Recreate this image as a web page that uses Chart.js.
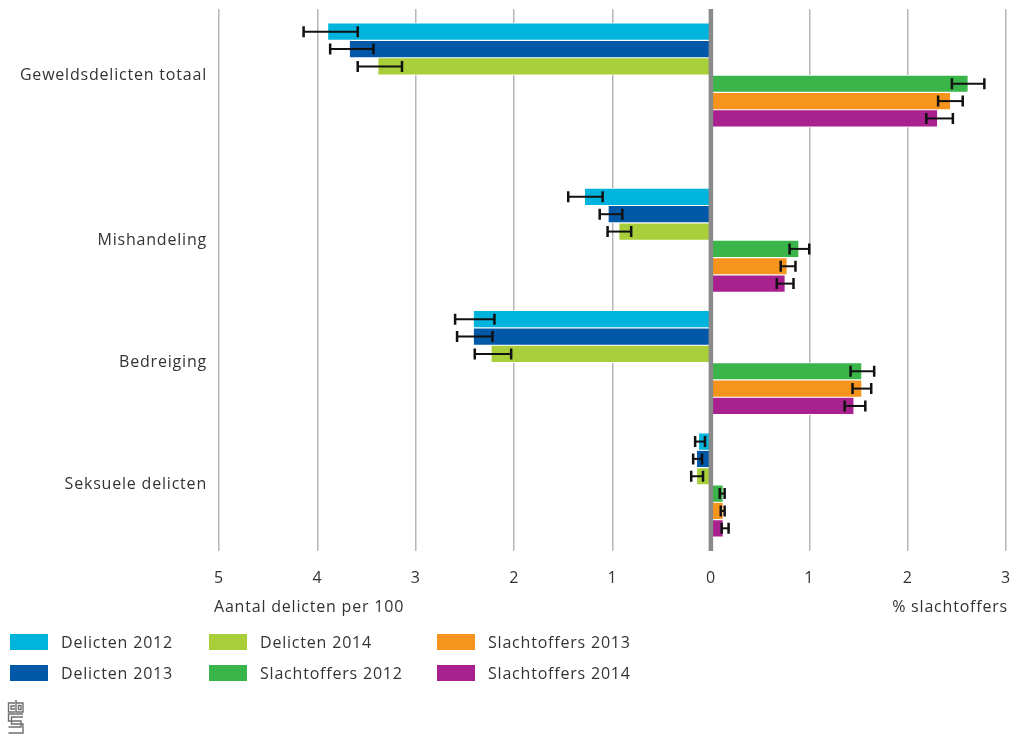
<!DOCTYPE html>
<html><head><meta charset="utf-8">
<script src="https://cdn.jsdelivr.net/npm/chart.js@4.4.1/dist/chart.umd.min.js"></script>
<style>
html,body{margin:0;padding:0;background:#fff;}
#wrap{position:relative;width:1014px;height:735px;overflow:hidden;font-family:"Open Sans",sans-serif;color:#333;letter-spacing:0.8px;font-size:16px;}
#c{position:absolute;left:0;top:0;}
.atitle{position:absolute;top:595px;line-height:22px;white-space:nowrap;}
#legend{position:absolute;left:10px;top:626px;display:grid;grid-auto-flow:column;grid-template-rows:31px 31px;grid-template-columns:199px 228px auto;}
.item{display:flex;align-items:center;white-space:nowrap;}
.box{width:38px;height:16px;margin-right:13px;flex:none;}
#logo{position:absolute;left:7px;top:699px;}
</style></head>
<body>
<div id="wrap">
<canvas id="c" width="1014" height="735"></canvas>
<div class="atitle" id="tl" style="left:214px;"></div>
<div class="atitle" id="tr" style="right:6px;"></div>
<div id="legend"></div>
<svg id="logo" width="18" height="36" viewBox="0 0 18 36" fill="none" stroke="#6f6f6f" stroke-width="1.4">
<path d="M8 4 H1.5 V13 H8"/><path d="M8 7 H4 V10 H8"/>
<path d="M9 1 V13 H16 V4 H9"/><rect x="11.5" y="6.5" width="2.5" height="4"/>
<path d="M16 15 H1.5 V22 H14 V28 H1.5"/><path d="M16 18 H4.5 V25 H16 V34 H1.5"/>
</svg>
</div>
<script>
const categories = ['Geweldsdelicten totaal', 'Mishandeling', 'Bedreiging', 'Seksuele delicten'];
const categoryPositions = [0, 1.35, 2.35, 3.35];
const xTickValues = [-5, -4, -3, -2, -1, 0, 1, 2, 3];
const leftAxisTitle = 'Aantal delicten per 100';
const rightAxisTitle = '% slachtoffers';

const seriesLabels = ['Delicten 2012', 'Delicten 2013', 'Delicten 2014', 'Slachtoffers 2012', 'Slachtoffers 2013', 'Slachtoffers 2014'];
const seriesColors = ['#00b4dd', '#0058a7', '#a8ce3a', '#39b54a', '#f7941e', '#a9218e'];

// Delicten: aantal per 100 (plotted to the left)
const delicten2012 = [3.89, 1.28, 2.41, 0.12];
const delicten2012Low = [3.59, 1.10, 2.20, 0.06];
const delicten2012High = [4.14, 1.45, 2.60, 0.16];
const delicten2013 = [3.67, 1.04, 2.41, 0.14];
const delicten2013Low = [3.43, 0.90, 2.22, 0.09];
const delicten2013High = [3.87, 1.13, 2.58, 0.18];
const delicten2014 = [3.38, 0.93, 2.23, 0.14];
const delicten2014Low = [3.14, 0.81, 2.03, 0.08];
const delicten2014High = [3.59, 1.05, 2.40, 0.20];
// Slachtoffers: % (plotted to the right)
const slachtoffers2012 = [2.61, 0.89, 1.53, 0.12];
const slachtoffers2012Low = [2.45, 0.80, 1.42, 0.09];
const slachtoffers2012High = [2.78, 1.00, 1.66, 0.14];
const slachtoffers2013 = [2.43, 0.77, 1.53, 0.12];
const slachtoffers2013Low = [2.31, 0.71, 1.44, 0.10];
const slachtoffers2013High = [2.56, 0.86, 1.63, 0.14];
const slachtoffers2014 = [2.30, 0.75, 1.45, 0.12];
const slachtoffers2014Low = [2.19, 0.67, 1.36, 0.11];
const slachtoffers2014High = [2.46, 0.84, 1.57, 0.18];

const seriesValues = [delicten2012, delicten2013, delicten2014, slachtoffers2012, slachtoffers2013, slachtoffers2014];
const seriesLow = [delicten2012Low, delicten2013Low, delicten2014Low, slachtoffers2012Low, slachtoffers2013Low, slachtoffers2014Low];
const seriesHigh = [delicten2012High, delicten2013High, delicten2014High, slachtoffers2012High, slachtoffers2013High, slachtoffers2014High];
const seriesSide = [-1, -1, -1, 1, 1, 1];

const FONT = '"Open Sans", sans-serif';
const TEXT = '#333';

const datasets = seriesLabels.map((label, s) => ({
  label,
  data: seriesValues[s].map((v, i) => ({ x: seriesSide[s] * v, y: categoryPositions[i] })),
  errLow: seriesLow[s].map(v => seriesSide[s] * v),
  errHigh: seriesHigh[s].map(v => seriesSide[s] * v),
  backgroundColor: seriesColors[s],
  borderColor: '#ffffff',
  borderWidth: { top: 0.9, bottom: 0.9, left: 0, right: 0 },
  borderSkipped: false,
  barThickness: 17.35
}));

const spacingPlugin = {
  id: 'spacing',
  beforeUpdate(chart) { chart.ctx.letterSpacing = '0.8px'; },
  beforeDraw(chart) { chart.ctx.letterSpacing = '0.8px'; }
};

const overlayPlugin = {
  id: 'overlay',
  afterDatasetsDraw(chart) {
    const ctx = chart.ctx;
    const xs = chart.scales.x;
    const area = chart.chartArea;
    ctx.save();
    const x0 = xs.getPixelForValue(0);
    ctx.strokeStyle = '#8a8a8a';
    ctx.lineWidth = 4.5;
    ctx.beginPath();
    ctx.moveTo(x0, area.top);
    ctx.lineTo(x0, area.bottom);
    ctx.stroke();
    ctx.strokeStyle = '#111';
    chart.data.datasets.forEach((ds, di) => {
      const meta = chart.getDatasetMeta(di);
      meta.data.forEach((el, i) => {
        const a = xs.getPixelForValue(ds.errLow[i]);
        const b = xs.getPixelForValue(ds.errHigh[i]);
        const y = el.y;
        ctx.lineWidth = 2;
        ctx.beginPath();
        ctx.moveTo(a, y); ctx.lineTo(b, y);
        ctx.stroke();
        ctx.lineWidth = 2.5;
        ctx.beginPath();
        ctx.moveTo(a, y - 5.5); ctx.lineTo(a, y + 5.5);
        ctx.moveTo(b, y - 5.5); ctx.lineTo(b, y + 5.5);
        ctx.stroke();
      });
    });
    ctx.restore();
  }
};

const chart = new Chart(document.getElementById('c'), {
  type: 'bar',
  data: { datasets },
  plugins: [spacingPlugin, overlayPlugin],
  options: {
    indexAxis: 'y',
    responsive: false,
    animation: false,
    events: [],
    layout: { padding: { top: 9, right: 8, left: 0, bottom: 0 } },
    plugins: { legend: { display: false }, tooltip: { enabled: false } },
    scales: {
      x: {
        type: 'linear',
        min: xTickValues[0],
        max: xTickValues[xTickValues.length - 1],
        afterBuildTicks(scale) { scale.ticks = xTickValues.map(v => ({ value: v })); },
        afterFit(scale) { scale.height = 184; scale.paddingLeft = 0; scale.paddingRight = 0; },
        border: { display: false },
        grid: {
          drawTicks: false,
          color: '#b5b5b5',
          lineWidth: c => (c.tick && c.tick.value === 0 ? 0 : 1.5)
        },
        ticks: {
          padding: 18,
          color: TEXT,
          font: { family: FONT, size: 16 },
          maxRotation: 0,
          callback: v => String(Math.abs(v))
        }
      },
      y: {
        type: 'linear',
        reverse: true,
        offset: false,
        min: -0.54,
        max: 3.89,
        afterBuildTicks(scale) { scale.ticks = categoryPositions.map(v => ({ value: v })); },
        afterFit(scale) { scale.width = 219; scale.paddingTop = 0; scale.paddingBottom = 0; },
        border: { display: false },
        grid: { display: false, drawTicks: false, offset: false },
        ticks: {
          padding: 12,
          color: TEXT,
          font: { family: FONT, size: 16 },
          autoSkip: false,
          callback: (v, i) => categories[i]
        }
      }
    }
  }
});

document.getElementById('tl').textContent = leftAxisTitle;
document.getElementById('tr').textContent = rightAxisTitle;
const legend = document.getElementById('legend');
seriesLabels.forEach((label, s) => {
  const item = document.createElement('div');
  item.className = 'item';
  const box = document.createElement('span');
  box.className = 'box';
  box.style.background = seriesColors[s];
  const txt = document.createElement('span');
  txt.textContent = label;
  item.appendChild(box); item.appendChild(txt);
  legend.appendChild(item);
});
</script>
</body></html>
